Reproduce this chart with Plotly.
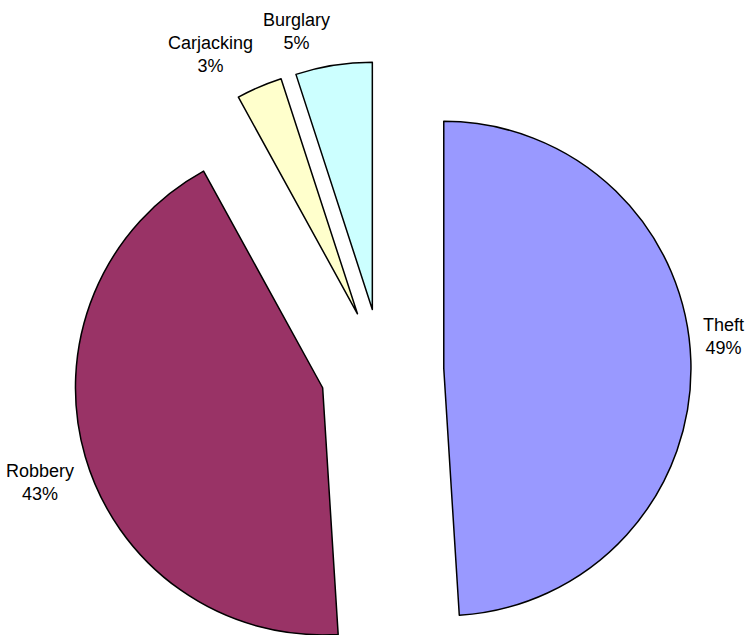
import math
import plotly.graph_objects as go

# Crime categories and their share of incidents (percent)
categories = ["Theft", "Robbery", "Carjacking", "Burglary"]
shares = [49, 43, 3, 5]
slice_colors = ["#9999FF", "#993366", "#FFFFCC", "#CCFFFF"]

# Figure geometry (pixels)
FIG_W, FIG_H = 746, 741
DOMAIN_X = [73 / FIG_W, 691 / FIG_W]
DOMAIN_Y = [0, 1]
PULL = 0.25
LABEL_GAP = 10
FONT = dict(family="Liberation Sans, Arial, sans-serif", size=18, color="black")

fig = go.Figure(
    go.Pie(
        labels=categories,
        values=shares,
        sort=False,
        direction="clockwise",
        rotation=0,
        pull=[PULL] * len(shares),
        marker=dict(colors=slice_colors, line=dict(color="black", width=1.5)),
        textposition="none",
        hoverinfo="label+percent",
        domain=dict(x=DOMAIN_X, y=DOMAIN_Y),
    )
)

# Outside labels: place each label box so its corner nearest the pie centre
# sits just beyond the exploded slice, along the slice's bisector.
box_w = FIG_W * (DOMAIN_X[1] - DOMAIN_X[0])
box_h = FIG_H * (DOMAIN_Y[1] - DOMAIN_Y[0])
cx = FIG_W * (DOMAIN_X[0] + DOMAIN_X[1]) / 2
cy = FIG_H * (1 - (DOMAIN_Y[0] + DOMAIN_Y[1]) / 2)
radius = min(box_w, box_h) / 2 / (1 + PULL)
label_dist = radius * (1 + PULL) + LABEL_GAP

total = sum(shares)
start = 0.0
for name, value in zip(categories, shares):
    sweep = 360.0 * value / total
    mid = math.radians(start + sweep / 2)
    start += sweep
    dx, dy = math.sin(mid), math.cos(mid)
    px = cx + label_dist * dx
    py = cy - label_dist * dy
    fig.add_annotation(
        x=px / FIG_W,
        y=1 - py / FIG_H,
        xref="paper",
        yref="paper",
        text=f"{name}<br>{round(100 * value / total)}%",
        showarrow=False,
        xanchor="left" if dx > 0 else "right",
        yanchor="bottom" if dy > 0 else "top",
        align="center",
        font=FONT,
    )

fig.update_layout(
    width=FIG_W,
    height=FIG_H,
    margin=dict(l=0, r=0, t=0, b=0),
    showlegend=False,
    paper_bgcolor="white",
    plot_bgcolor="white",
)

fig.write_html(
    "out.html",
    post_script="document.documentElement.style.overflow='hidden';document.body.style.overflow='hidden';",
)
